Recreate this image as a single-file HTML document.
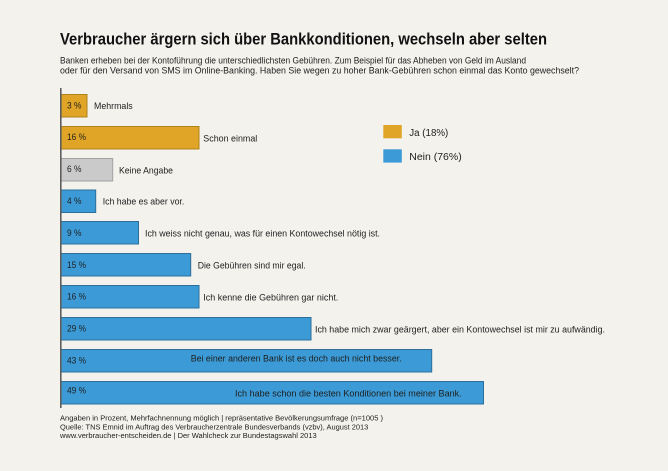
<!DOCTYPE html>
<html><head><meta charset="utf-8"><style>
html,body{margin:0;padding:0;background:#f4f2ed;}
svg{display:block;}
text{font-family:"Liberation Sans",sans-serif;fill:#1e1e1e;}
</style></head><body>
<svg width="668" height="471" viewBox="0 0 668 471" xmlns="http://www.w3.org/2000/svg">
<rect x="0" y="0" width="668" height="471" fill="#f4f2ed"/>
<text x="60" y="44.5" font-size="16.5" font-weight="bold" textLength="487" lengthAdjust="spacingAndGlyphs" style="fill:#111">Verbraucher ärgern sich über Bankkonditionen, wechseln aber selten</text>
<text x="60" y="63.5" font-size="9" textLength="466" lengthAdjust="spacingAndGlyphs">Banken erheben bei der Kontoführung die unterschiedlichsten Gebühren. Zum Beispiel für das Abheben von Geld im Ausland</text>
<text x="60" y="73.5" font-size="9" textLength="519" lengthAdjust="spacingAndGlyphs">oder für den Versand von SMS im Online-Banking. Haben Sie wegen zu hoher Bank-Gebühren schon einmal das Konto gewechselt?</text>

<!-- bars -->
<g stroke-width="1">
<rect x="61" y="94.5" width="26" height="22.5" fill="#e0a527" stroke="#b0811c"/>
<rect x="61" y="126.5" width="138" height="22.5" fill="#e0a527" stroke="#b0811c"/>
<rect x="61" y="158.5" width="51.7" height="22.5" fill="#cacaca" stroke="#a3a3a3"/>
<rect x="61" y="190" width="34.7" height="22.5" fill="#3c9bd6" stroke="#2d6f9c"/>
<rect x="61" y="221.5" width="77.5" height="22.5" fill="#3c9bd6" stroke="#2d6f9c"/>
<rect x="61" y="253.5" width="129.7" height="22.5" fill="#3c9bd6" stroke="#2d6f9c"/>
<rect x="61" y="285.5" width="138" height="22.5" fill="#3c9bd6" stroke="#2d6f9c"/>
<rect x="61" y="317.5" width="250" height="22.5" fill="#3c9bd6" stroke="#2d6f9c"/>
<rect x="61" y="349.5" width="370.7" height="22.5" fill="#3c9bd6" stroke="#2d6f9c"/>
<rect x="61" y="381.5" width="422.5" height="22.5" fill="#3c9bd6" stroke="#2d6f9c"/>
</g>
<rect x="60" y="88" width="1.6" height="320" fill="#5e5e5e"/>

<!-- percent labels -->
<g font-size="8.8">
<text x="67" y="108.5" textLength="14.5" lengthAdjust="spacingAndGlyphs">3 %</text>
<text x="67" y="140" textLength="19" lengthAdjust="spacingAndGlyphs">16 %</text>
<text x="67" y="172" textLength="14.5" lengthAdjust="spacingAndGlyphs">6 %</text>
<text x="67" y="204" textLength="14.5" lengthAdjust="spacingAndGlyphs">4 %</text>
<text x="67" y="236" textLength="14.5" lengthAdjust="spacingAndGlyphs">9 %</text>
<text x="67" y="268" textLength="19" lengthAdjust="spacingAndGlyphs">15 %</text>
<text x="67" y="299.5" textLength="19" lengthAdjust="spacingAndGlyphs">16 %</text>
<text x="67" y="331.5" textLength="19" lengthAdjust="spacingAndGlyphs">29 %</text>
<text x="67" y="363.5" textLength="19" lengthAdjust="spacingAndGlyphs">43 %</text>
<text x="67" y="393.5" textLength="19" lengthAdjust="spacingAndGlyphs">49 %</text>
</g>

<!-- category labels -->
<g font-size="9">
<text x="94" y="108.8" textLength="38.7" lengthAdjust="spacingAndGlyphs">Mehrmals</text>
<text x="203.3" y="141.5" textLength="54" lengthAdjust="spacingAndGlyphs">Schon einmal</text>
<text x="119" y="173.5" textLength="54" lengthAdjust="spacingAndGlyphs">Keine Angabe</text>
<text x="102.7" y="204.5" textLength="81.6" lengthAdjust="spacingAndGlyphs">Ich habe es aber vor.</text>
<text x="145" y="236.5" textLength="235" lengthAdjust="spacingAndGlyphs">Ich weiss nicht genau, was für einen Kontowechsel nötig ist.</text>
<text x="197.7" y="268.5" textLength="108" lengthAdjust="spacingAndGlyphs">Die Gebühren sind mir egal.</text>
<text x="203.3" y="300.5" textLength="135" lengthAdjust="spacingAndGlyphs">Ich kenne die Gebühren gar nicht.</text>
<text x="315" y="332.5" textLength="290" lengthAdjust="spacingAndGlyphs">Ich habe mich zwar geärgert, aber ein Kontowechsel ist mir zu aufwändig.</text>
<text x="190.7" y="361.5" textLength="211" lengthAdjust="spacingAndGlyphs">Bei einer anderen Bank ist es doch auch nicht besser.</text>
<text x="235" y="396.5" textLength="226.7" lengthAdjust="spacingAndGlyphs">Ich habe schon die besten Konditionen bei meiner Bank.</text>
</g>

<!-- legend -->
<rect x="383.3" y="125" width="18.5" height="13.3" fill="#e0a527"/>
<rect x="383.3" y="149.3" width="18.5" height="13.3" fill="#3c9bd6"/>
<text x="409.3" y="135.8" font-size="10" textLength="39" lengthAdjust="spacingAndGlyphs">Ja (18%)</text>
<text x="409.3" y="159.8" font-size="10" textLength="52.4" lengthAdjust="spacingAndGlyphs">Nein (76%)</text>

<!-- footer -->
<g font-size="7.6">
<text x="60" y="420.5" textLength="323" lengthAdjust="spacingAndGlyphs">Angaben in Prozent, Mehrfachnennung möglich | repräsentative Bevölkerungsumfrage (n=1005 )</text>
<text x="60" y="429.3" textLength="308.3" lengthAdjust="spacingAndGlyphs">Quelle: TNS Emnid im Auftrag des Verbraucherzentrale Bundesverbands (vzbv), August 2013</text>
<text x="60" y="438.2" textLength="256.7" lengthAdjust="spacingAndGlyphs">www.verbraucher-entscheiden.de | Der Wahlcheck zur Bundestagswahl 2013</text>
</g>
</svg>
</body></html>
